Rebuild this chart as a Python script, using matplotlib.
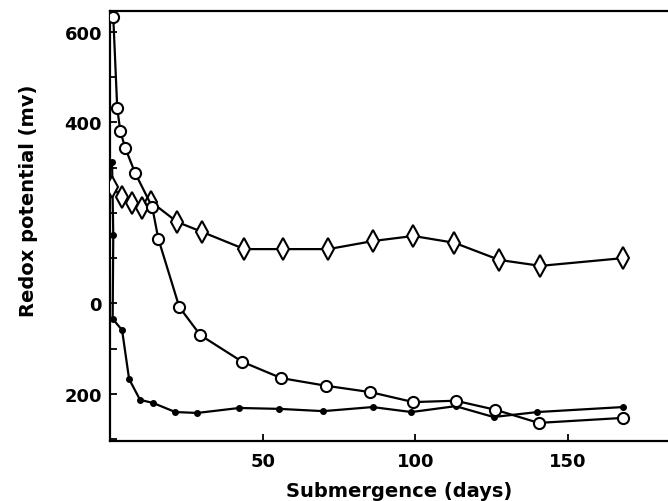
import matplotlib
matplotlib.use("Agg")
import matplotlib.pyplot as plt
from matplotlib.ticker import FixedLocator

# open circles
days_circle = [0.7, 2.0, 3.0, 4.6, 7.9, 13.5, 15.5, 22.4, 29.3, 43.1, 55.9,
               70.7, 85.2, 99.3, 113.2, 126.3, 140.5, 168.1]
eh_circle = [633, 432, 381, 344, 288, 213, 143, -8, -70, -129, -165,
             -182, -196, -218, -215, -235, -264, -253]

# open diamonds
days_diamond = [0.3, 3.6, 6.9, 10.2, 13.2, 21.7, 29.9, 43.8, 56.6, 71.4,
                86.2, 99.3, 112.8, 127.6, 141.1, 168.1]
eh_diamond = [257, 235, 222, 211, 224, 180, 158, 120, 120, 120,
              138, 149, 134, 96, 83, 100]

# filled dots
days_dot = [0.3, 0.7, 0.5, 3.6, 5.9, 9.5, 13.8, 21.1, 28.3, 42.1, 55.3,
            69.7, 85.9, 98.7, 113.2, 125.7, 140.1, 168.1]
eh_dot = [313, 151, -34, -59, -167, -213, -220, -240, -242, -231, -233,
          -238, -229, -240, -227, -251, -240, -229]

y_ticks = [600, 400, 0, -200]
y_tick_labels = ["600", "400", "0", "200"]
x_ticks = [50, 100, 150]

plt.rcParams['font.family'] = ['DejaVu Sans']

fig = plt.figure(figsize=(6.68, 5.02), dpi=100)
ax = fig.add_axes([0.165, 0.1195, 0.835, 0.8565])

lw = 1.6
ax.plot(days_dot, eh_dot, color='black', lw=lw, marker='o', markersize=4,
        markerfacecolor='black', zorder=3)
ax.plot(days_diamond, eh_diamond, color='black', lw=lw, marker='d',
        markersize=11, markerfacecolor='white', markeredgewidth=1.5, zorder=4)
ax.plot(days_circle, eh_circle, color='black', lw=lw, marker='o',
        markersize=8, markerfacecolor='white', markeredgewidth=1.5, zorder=5)

ax.set_xlim(-0.3, 183)
ax.set_ylim(-304, 646)

ax.spines['right'].set_visible(False)
for s in ['left', 'top', 'bottom']:
    ax.spines[s].set_linewidth(1.6)

ax.set_xticks(x_ticks)
ax.set_yticks(y_ticks)
ax.set_yticklabels(y_tick_labels)
ax.yaxis.set_minor_locator(FixedLocator([-300, -100, 100, 200, 300, 500]))
ax.tick_params(axis='both', which='both', direction='in', length=5, width=1.3)
ax.tick_params(axis='x', pad=8, labelsize=13)
ax.tick_params(axis='y', pad=6, labelsize=13)
for lab in ax.get_xticklabels() + ax.get_yticklabels():
    lab.set_fontweight('bold')

ax.set_xlabel('Submergence (days)', fontsize=14, fontweight='bold')
ax.set_ylabel('Redox potential (mv)', fontsize=14, fontweight='bold')
ax.xaxis.set_label_coords(0.518, -0.093)
ax.yaxis.set_label_coords(-0.129, 0.56)

fig.savefig('out.png', dpi=100)
